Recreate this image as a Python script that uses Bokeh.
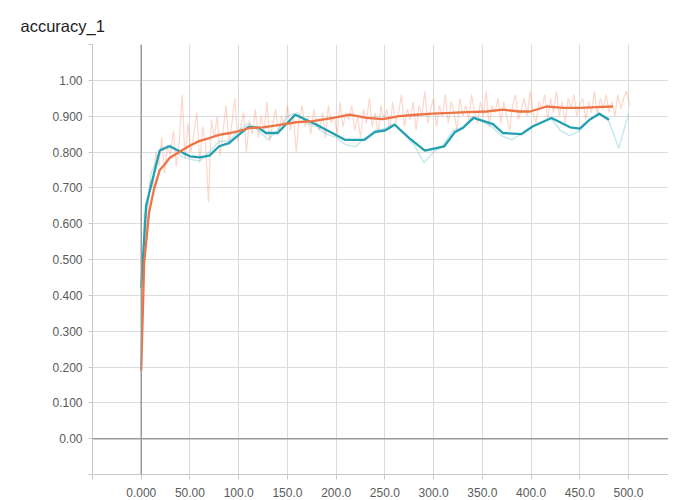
from bokeh.plotting import figure
from bokeh.models import FixedTicker, Span, Range1d
from bokeh.embed import file_html
from bokeh.resources import INLINE

title_text = "accuracy_1"

# orange run, raw values every 3 steps (0..501)
orange_raw_steps = list(range(0, 502, 3))
orange_raw = [
    0.19, 0.63, 0.58, 0.72, 0.70, 0.80, 0.76, 0.84, 0.74, 0.82, 0.79,
    0.86, 0.76, 0.83, 0.96, 0.78, 0.88, 0.80, 0.85, 0.91, 0.77,
    0.87, 0.82, 0.66, 0.89, 0.84, 0.90, 0.79, 0.86, 0.93, 0.82,
    0.88, 0.95, 0.83, 0.87, 0.91, 0.80, 0.89, 0.85, 0.92, 0.84,
    0.90, 0.86, 0.94, 0.83, 0.88, 0.92, 0.85, 0.90, 0.87, 0.93,
    0.86, 0.91, 0.80, 0.89, 0.93, 0.87, 0.90, 0.85, 0.92, 0.88,
    0.86, 0.91, 0.84, 0.93, 0.88, 0.90, 0.85, 0.94, 0.87, 0.91,
    0.89, 0.93, 0.86, 0.90, 0.84, 0.92, 0.88, 0.95, 0.87, 0.91,
    0.85, 0.93, 0.89, 0.92, 0.86, 0.94, 0.88, 0.91, 0.96, 0.87,
    0.92, 0.89, 0.94, 0.86, 0.93, 0.90, 0.97, 0.88, 0.92, 0.95,
    0.87, 0.93, 0.90, 0.96, 0.88, 0.94, 0.91, 0.86, 0.95, 0.90,
    0.93, 0.89, 0.96, 0.91, 0.88, 0.94, 0.90, 0.97, 0.87, 0.93,
    0.91, 0.95, 0.88, 0.94, 0.90, 0.86, 0.93, 0.96, 0.89, 0.92,
    0.95, 0.90, 0.97, 0.91, 0.88, 0.94, 0.92, 0.96, 0.89, 0.95,
    0.91, 0.97, 0.90, 0.94, 0.88, 0.95, 0.92, 0.96, 0.90, 0.93,
    0.95, 0.89, 0.94, 0.91, 0.97, 0.90, 0.95, 0.92, 0.96, 0.91,
    0.94, 0.90, 0.96, 0.92, 0.95, 0.97, 0.93,
]

# orange run, smoothed
orange_smooth_steps = [0, 3, 8, 13, 19, 24, 29, 39, 50, 60, 70, 80, 91, 101, 111, 125,
                       142, 159, 176, 197, 214, 231, 248, 265, 282, 299, 317, 334,
                       354, 371, 388, 399, 416, 433, 450, 467, 484]
orange_smooth = [0.19, 0.49, 0.63, 0.695, 0.75, 0.765, 0.783, 0.80, 0.818, 0.831, 0.839,
                 0.848, 0.853, 0.859, 0.867, 0.869, 0.876, 0.883, 0.886, 0.895, 0.904,
                 0.895, 0.892, 0.90, 0.904, 0.907, 0.909, 0.911, 0.913, 0.918, 0.913,
                 0.913, 0.927, 0.923, 0.923, 0.925, 0.927]

# teal run, raw
teal_raw_steps = [0, 5, 10, 20, 30, 40, 50, 60, 70, 80, 90, 100, 110, 120, 130, 140, 150,
                  160, 170, 180, 190, 200, 210, 220, 230, 240, 250, 260, 270, 280, 290,
                  300, 310, 320, 330, 340, 350, 360, 370, 380, 390, 400, 410, 420, 430,
                  440, 450, 460, 470, 480, 490, 500]
teal_raw = [0.42, 0.62, 0.74, 0.81, 0.82, 0.79, 0.78, 0.775, 0.80, 0.83, 0.83, 0.86, 0.88,
            0.86, 0.835, 0.86, 0.90, 0.91, 0.88, 0.87, 0.85, 0.84, 0.82, 0.815, 0.84, 0.86,
            0.865, 0.88, 0.85, 0.82, 0.77, 0.80, 0.82, 0.86, 0.87, 0.90, 0.885, 0.87, 0.845,
            0.834, 0.85, 0.87, 0.88, 0.895, 0.86, 0.845, 0.86, 0.89, 0.91, 0.885, 0.81, 0.906]

# teal run, smoothed
teal_smooth_steps = [0, 5, 19, 29, 41, 50, 60, 70, 80, 90, 100, 110, 120, 128, 140, 158, 169,
                     180, 193, 209, 229, 240, 250, 260, 275, 291, 311, 322, 330, 341, 361,
                     371, 390, 402, 421, 440, 450, 460, 470, 480]
teal_smooth = [0.42, 0.65, 0.804, 0.816, 0.80, 0.788, 0.785, 0.79, 0.816, 0.825, 0.848, 0.87,
               0.868, 0.853, 0.853, 0.904, 0.89, 0.876, 0.857, 0.834, 0.834, 0.856, 0.86,
               0.876, 0.839, 0.804, 0.816, 0.856, 0.867, 0.895, 0.878, 0.853, 0.85, 0.872,
               0.895, 0.869, 0.865, 0.89, 0.907, 0.89]

x_ticks = [-50, 0, 50, 100, 150, 200, 250, 300, 350, 400, 450, 500, 550]
x_tick_labels = ["", "0.000", "50.00", "100.0", "150.0", "200.0", "250.0", "300.0",
                 "350.0", "400.0", "450.0", "500.0", ""]
y_ticks = [-0.1, 0.0, 0.1, 0.2, 0.3, 0.4, 0.5, 0.6, 0.7, 0.8, 0.9, 1.0, 1.1]
y_tick_labels = ["", "0.00", "0.100", "0.200", "0.300", "0.400", "0.500", "0.600",
                 "0.700", "0.800", "0.900", "1.00", ""]

ORANGE = "#ef7445"
TEAL = "#22a0b0"
FONT = "Liberation Sans"

p = figure(output_backend="svg", toolbar_location=None,
           frame_width=576, frame_height=430,
           x_range=Range1d(-50, 541), y_range=Range1d(-0.1, 1.1),
           min_border_left=92, min_border_right=0, min_border_top=44, min_border_bottom=0,
           title=title_text)

p.title.text_font = FONT
p.title.text_font_size = "16.5px"
p.title.text_font_style = "normal"
p.title.text_color = "#222222"
p.title.align = "left"
p.title.offset = -72
p.title.standoff = 20

p.outline_line_color = None
p.background_fill_color = "white"
p.border_fill_color = "white"

p.xaxis.ticker = FixedTicker(ticks=x_ticks)
p.yaxis.ticker = FixedTicker(ticks=y_ticks)
p.xaxis.major_label_overrides = {t: l for t, l in zip(x_ticks, x_tick_labels)}
p.yaxis.major_label_overrides = {t: l for t, l in zip(y_ticks, y_tick_labels)}
p.xgrid.ticker = FixedTicker(ticks=x_ticks)
p.ygrid.ticker = FixedTicker(ticks=y_ticks)

for ax in (p.xaxis, p.yaxis):
    ax.axis_line_color = "#c8c8c8"
    ax.major_tick_line_color = "#c8c8c8"
    ax.major_tick_in = 0
    ax.major_tick_out = 4
    ax.minor_tick_line_color = None
    ax.major_label_text_font = FONT
    ax.major_label_text_font_size = "12px"
    ax.major_label_text_color = "#5a5a5a"
p.xaxis.major_tick_out = 5
p.xaxis.major_label_standoff = 8
p.yaxis.major_label_standoff = 6

p.grid.grid_line_color = "#dcdcdc"
p.grid.grid_line_width = 1

p.add_layout(Span(location=0, dimension="height", line_color="#9a9a9a", line_width=1.5))
p.add_layout(Span(location=0, dimension="width", line_color="#9a9a9a", line_width=1.5))

p.line(orange_raw_steps, orange_raw, line_color=ORANGE, line_alpha=0.28, line_width=1.2)
p.line(teal_raw_steps, teal_raw, line_color="#5bbfd0", line_alpha=0.35, line_width=1.5)
p.line(teal_smooth_steps, teal_smooth, line_color=TEAL, line_width=2.3)
p.line(orange_smooth_steps, orange_smooth, line_color=ORANGE, line_width=2.3)

open("out.html", "w").write(file_html(p, INLINE))
